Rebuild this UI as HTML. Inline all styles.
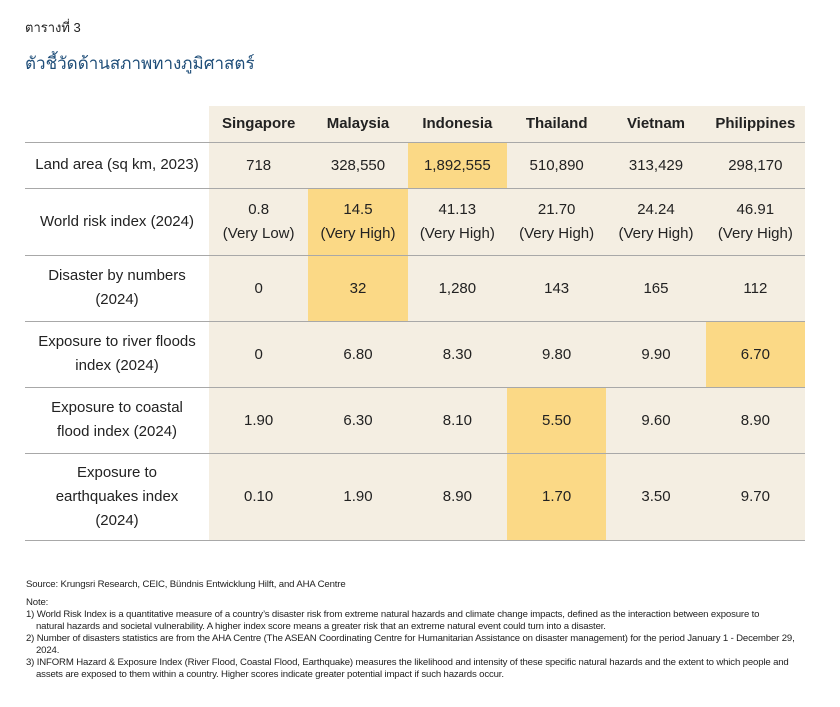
<!DOCTYPE html>
<html><head><meta charset="utf-8"><style>
body{margin:0;width:840px;height:707px;background:#fff;position:relative;font-family:"Liberation Sans","Noto Sans CJK SC",sans-serif;overflow:hidden}
.a{position:absolute}
.c{position:absolute;display:flex;align-items:center;justify-content:center;text-align:center;font-size:15px;color:#222;line-height:24px}
.l{position:absolute;display:flex;align-items:center;justify-content:center;text-align:center;font-size:15px;color:#222;line-height:24px;left:25px;width:184px}
.h{font-weight:bold;font-size:15px}
.hl{background:#fbd986}
.line{position:absolute;left:25px;width:780px;height:1px;background:#a8a8a8}
.n{position:absolute;left:26px;font-size:9.6px;color:#222;line-height:12px;letter-spacing:-0.15px;white-space:nowrap}
.n span{padding-left:10px}
</style></head><body>
<div class="a" style="left:25px;top:17px;font-size:13px;color:#222">ตารางที่ 3</div>
<div class="a" style="left:25px;top:50px;font-size:17px;color:#1f4e79">ตัวชี้วัดด้านสภาพทางภูมิศาสตร์</div>
<div class="a" style="left:209px;top:106px;width:596px;height:434px;background:#f4eee2"></div>
<div id="t"></div>
<div class="n" style="top:579px">Source: Krungsri Research, CEIC, Bündnis Entwicklung Hilft, and AHA Centre</div>
<div class="n" style="top:597px">Note:</div>
<div class="n" style="top:609px">1) World Risk Index is a quantitative measure of a country’s disaster risk from extreme natural hazards and climate change impacts, defined as the interaction between exposure to<br><span>natural hazards and societal vulnerability. A higher index score means a greater risk that an extreme natural event could turn into a disaster.</span></div>
<div class="n" style="top:633px">2) Number of disasters statistics are from the AHA Centre (The ASEAN Coordinating Centre for Humanitarian Assistance on disaster management) for the period January 1 - December 29,<br><span>2024.</span></div>
<div class="n" style="top:657px">3) INFORM Hazard &amp; Exposure Index (River Flood, Coastal Flood, Earthquake) measures the likelihood and intensity of these specific natural hazards and the extent to which people and<br><span>assets are exposed to them within a country. Higher scores indicate greater potential impact if such hazards occur.</span></div>
<script>
const countries=["Singapore","Malaysia","Indonesia","Thailand","Vietnam","Philippines"];
const rowLabels=["Land area (sq km, 2023)","World risk index (2024)","Disaster by numbers<br>(2024)","Exposure to river floods<br>index (2024)","Exposure to coastal<br>flood index (2024)","Exposure to<br>earthquakes index<br>(2024)"];
const values=[
["718","328,550","1,892,555","510,890","313,429","298,170"],
["0.8<br>(Very Low)","14.5<br>(Very High)","41.13<br>(Very High)","21.70<br>(Very High)","24.24<br>(Very High)","46.91<br>(Very High)"],
["0","32","1,280","143","165","112"],
["0","6.80","8.30","9.80","9.90","6.70"],
["1.90","6.30","8.10","5.50","9.60","8.90"],
["0.10","1.90","8.90","1.70","3.50","9.70"]];
const highlight=[[0,2],[1,1],[2,1],[3,5],[4,3],[5,3]];
const t=document.getElementById('t');
const colX=[209,308.3,407.7,507,606.3,705.7,805];
const rowY=[106,142,188,255,321,387,453,540];
function slug(s){return s.replace(/<br>/g,' ').toLowerCase().replace(/[^a-z0-9]+/g,'-').replace(/^-|-$/g,'');}
countries.forEach((c,i)=>{const d=document.createElement('div');d.className='c h';


d.style.cssText=`left:${colX[i]}px;width:${colX[i+1]-colX[i]}px;top:${rowY[0]}px;height:${rowY[1]-rowY[0]}px`;d.textContent=c;t.appendChild(d);});
rowLabels.forEach((r,j)=>{
const ln=document.createElement('div');ln.className='line';ln.style.top=rowY[j+1]+'px';


t.appendChild(ln);
const l=document.createElement('div');l.className='l';


l.style.cssText=`top:${rowY[j+1]}px;height:${rowY[j+2]-rowY[j+1]}px`;l.innerHTML=r;t.appendChild(l);
values[j].forEach((v,i)=>{const d=document.createElement('div');d.className='c';
if(highlight.some(h=>h[0]===j&&h[1]===i))d.classList.add('hl');


d.style.cssText=`left:${colX[i]}px;width:${colX[i+1]-colX[i]}px;top:${rowY[j+1]+1}px;height:${rowY[j+2]-rowY[j+1]-1}px`;d.innerHTML=v;t.appendChild(d);});
});
const last=document.createElement('div');last.className='line';last.style.top='540px';


t.appendChild(last);
</script>
</body></html>
